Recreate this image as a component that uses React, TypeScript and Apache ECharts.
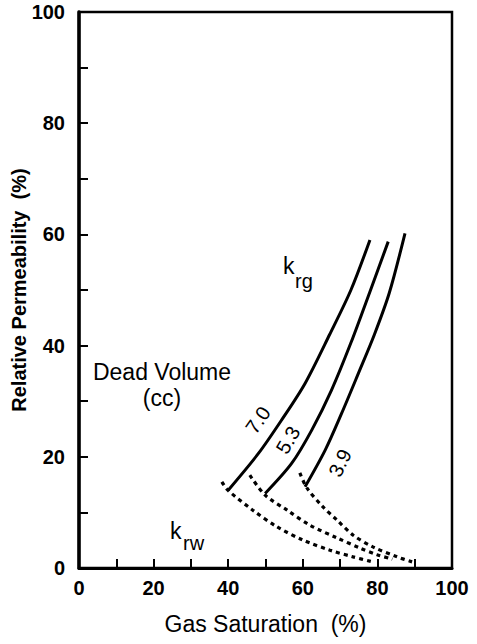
import React, { useEffect, useRef } from "react";
import * as echarts from "echarts";

// ---- data (Gas Saturation %, Relative Permeability %) ----
const xTicks = [0, 20, 40, 60, 80, 100];
const yTicks = [0, 20, 40, 60, 80, 100];

const krg70: number[][] = [[40, 14], [48.1, 20.6], [54.3, 26.6], [60.6, 33.2], [67.2, 42], [72.9, 50], [78, 59]];
const krg53: number[][] = [[49.9, 13.4], [57, 18.8], [62.4, 24.8], [67.7, 32], [72.9, 40.5], [78, 49.7], [82.9, 58.7]];
const krg39: number[][] = [[60.6, 14.6], [66, 21.2], [70.4, 27.8], [74.9, 35], [79.2, 42], [83.2, 49.5], [87.4, 60.2]];

const krw70: number[][] = [[38.3, 15.5], [39.9, 14.0], [46.6, 10.4], [53.1, 7.4], [60.1, 5.0], [67.3, 3.2], [73.5, 2.0], [78.8, 1.1]];
const krw53: number[][] = [[45.8, 16.7], [49.9, 13.1], [55.8, 10.4], [61.9, 7.7], [69.2, 5.4], [75.3, 3.6], [79.9, 2.4], [84, 1.6]];
const krw39: number[][] = [[59.2, 17.1], [61.1, 14.4], [65.4, 11.0], [69.2, 8.6], [73.5, 5.9], [78.8, 3.8], [85.3, 2.0], [89.3, 1.1]];

const curveLabels = ["7.0", "5.3", "3.9"];

const FONT = "'Liberation Sans', Arial, Helvetica, sans-serif";

export default function App() {
  const ref = useRef<HTMLDivElement>(null);
  useEffect(() => {
    if (!ref.current) return;
    const chart = echarts.init(ref.current, null, { renderer: "svg" });
    const solid = (data: number[][]) => ({
      type: "line",
      data,
      smooth: 0.3,
      symbol: "none",
      lineStyle: { color: "#000", width: 3 },
      z: 3,
    });
    const dashed = (data: number[][]) => ({
      type: "line",
      data,
      smooth: 0.3,
      symbol: "none",
      lineStyle: { color: "#000", width: 3.2, type: [4, 4] },
      z: 3,
    });
    const txt = (text: string, x: number, y: number, size: number, opts: any = {}) => ({
      type: "text",
      x,
      y,
      rotation: opts.rotation || 0,
      style: {
        text,
        fill: "#000",
        font: `${opts.bold ? "bold " : ""}${size}px ${FONT}`,
        textAlign: opts.align || "center",
        textVerticalAlign: "middle",
      },
    });
    const deg = Math.PI / 180;
    chart.setOption({
      animation: false,
      backgroundColor: "#fff",
      grid: {
        left: 79,
        top: 12,
        right: 25,
        bottom: 76,
        containLabel: false,
        outerBoundsMode: "none",
        show: true,
        borderColor: "#000",
        borderWidth: 2.5,
      },
      xAxis: {
        type: "value",
        min: 0,
        max: 100,
        interval: 10,
        name: "Gas Saturation  (%)",
        nameLocation: "middle",
        nameGap: 44,
        nameMoveOverlap: false,
        nameTextStyle: { color: "#000", fontSize: 23, fontFamily: FONT },
        axisLine: { show: true, lineStyle: { color: "#000", width: 3 } },
        axisTick: { show: true, inside: true, length: 9, lineStyle: { color: "#000", width: 2 } },
        axisLabel: {
          color: "#000",
          fontSize: 20,
          fontWeight: "bold",
          fontFamily: FONT,
          margin: 10,
          formatter: (v: number) => (xTicks.includes(v) ? String(v) : ""),
        },
        splitLine: { show: false },
      },
      yAxis: {
        type: "value",
        min: 0,
        max: 100,
        interval: 10,
        name: "Relative Permeability  (%)",
        nameLocation: "middle",
        nameGap: 50,
        nameMoveOverlap: false,
        nameTextStyle: { color: "#000", fontSize: 20, fontWeight: "bold", fontFamily: FONT },
        axisLine: { show: true, lineStyle: { color: "#000", width: 3.5 } },
        axisTick: { show: true, inside: true, length: 9, lineStyle: { color: "#000", width: 2 } },
        axisLabel: {
          color: "#000",
          fontSize: 20,
          fontWeight: "bold",
          fontFamily: FONT,
          margin: 14,
          formatter: (v: number) => (yTicks.includes(v) ? String(v) : ""),
        },
        splitLine: { show: false },
      },
      series: [solid(krg70), solid(krg53), solid(krg39), dashed(krw70), dashed(krw53), dashed(krw39)],
      graphic: [
        txt("k", 283, 266, 23, { align: "left" }),
        txt("rg", 295, 281, 20, { align: "left" }),
        txt("k", 170, 531, 23, { align: "left" }),
        txt("rw", 183, 543, 20, { align: "left" }),
        txt("Dead Volume", 162, 372, 23),
        txt("(cc)", 162, 398, 23),
        txt(curveLabels[0], 258, 420, 20, { rotation: 55 * deg }),
        txt(curveLabels[1], 288, 440, 20, { rotation: 60 * deg }),
        txt(curveLabels[2], 340, 463, 20, { rotation: 64 * deg }),
      ],
    });
    return () => chart.dispose();
  }, []);
  return <div ref={ref} style={{ position: "fixed", left: 0, top: 0, width: 477, height: 644 }} />;
}
